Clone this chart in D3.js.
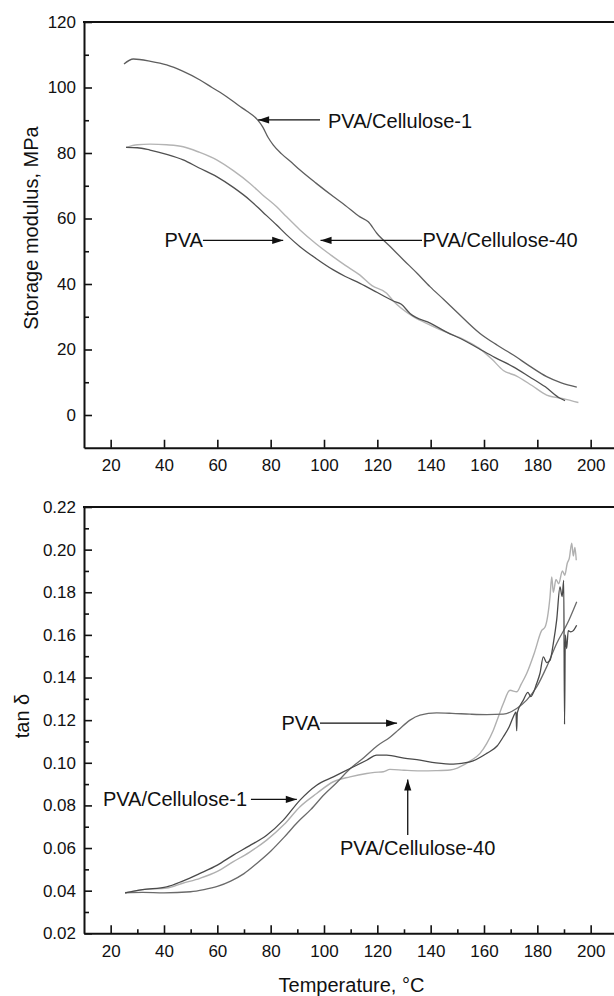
<!DOCTYPE html>
<html><head><meta charset="utf-8">
<script src="https://cdn.jsdelivr.net/npm/d3@7"></script>
<style>
body{margin:0;background:#fff}
svg{display:block}
text{font-family:"Liberation Sans",Arial,Helvetica,sans-serif;fill:#111}
</style>
</head><body>
<svg id="chart" width="614" height="996"></svg>
<script>
// ---------------- DATA ----------------
const seriesNames = ["PVA", "PVA/Cellulose-1", "PVA/Cellulose-40"];
const xTickLabels = [20, 40, 60, 80, 100, 120, 140, 160, 180, 200];
const modulusTickLabels = [0, 20, 40, 60, 80, 100, 120];
const tanTickLabels = [0.02, 0.04, 0.06, 0.08, 0.10, 0.12, 0.14, 0.16, 0.18, 0.20, 0.22];

// Storage modulus (MPa) vs temperature (°C)
const modC1Temp = [25, 28.5, 35, 41, 47, 53.5, 58, 63.5, 68, 71, 75, 77, 79, 81, 84, 88, 91, 97, 103.5, 108, 113.5, 116.6, 119.8, 125, 130, 135, 139.75, 145, 150, 158.5, 165, 171, 177, 183.5, 189, 194.8];
const modC1 = [107.2, 108.7, 108, 106.9, 105, 102.3, 100, 97.2, 94.5, 92.8, 90.2, 88, 84.8, 82.4, 79.8, 77, 74.8, 70.8, 66.7, 64, 60.5, 59, 55.5, 51.3, 47.2, 43.2, 39.2, 35.2, 31.3, 24.9, 21.3, 18.3, 15, 11.7, 9.8, 8.5];

const modPVATemp = [25.75, 30, 34.75, 41, 47.2, 53, 59.75, 66, 72.25, 77, 82.25, 86, 91, 97, 103.5, 108, 113.5, 120, 126, 129, 132.25, 140, 146, 152.25, 158, 164, 171, 177, 183, 188.5, 190.4];
const modPVA = [81.7, 81.6, 80.9, 79.6, 77.9, 75.5, 72.8, 69.5, 65.6, 62, 58, 55, 51.4, 47.8, 44.3, 42.3, 40.2, 37.4, 34.8, 33.8, 31, 28, 25.3, 22.9, 20.3, 17.6, 14.7, 11.7, 8.6, 5.1, 4.4];

const modC40Temp = [25.8, 30, 34.75, 41, 47.2, 53, 59.75, 66, 72.25, 77, 82.25, 86, 91, 97, 103.5, 108, 113.5, 118, 123.5, 126, 133.5, 140, 146, 152.25, 158, 163, 167.25, 172.25, 178, 183.5, 189.7, 195.4];
const modC40 = [81.7, 82.5, 82.7, 82.5, 81.9, 80.3, 77.9, 74.6, 70.7, 67.2, 63.6, 60.5, 56.5, 52.3, 48.3, 45.7, 42.7, 39.5, 37.2, 34.8, 30, 27.4, 25.2, 23.1, 20.5, 17, 13.6, 11.9, 9, 6.1, 5.0, 3.8];

// tan delta vs temperature (°C)
const tanPVATemp = [25.4, 32, 40, 50, 55, 60, 65, 70, 75, 80, 85, 90, 95, 100, 105, 109, 115, 120, 124.75, 128, 132.25, 136, 142.25, 148, 154.75, 161, 167.25, 172.25, 176, 179.75, 183.5, 187.25, 191.25, 194.75];
const tanPVA = [0.039, 0.0392, 0.039, 0.0395, 0.0405, 0.042, 0.0445, 0.048, 0.053, 0.0585, 0.065, 0.072, 0.078, 0.085, 0.091, 0.0963, 0.1025, 0.108, 0.112, 0.1155, 0.120, 0.1223, 0.1234, 0.1232, 0.1228, 0.1226, 0.1228, 0.1255, 0.1294, 0.1356, 0.145, 0.156, 0.1653, 0.1755];

const tanC1Temp = [25.4, 32, 41, 47, 53.5, 60, 66, 72, 78.5, 84.75, 91, 97.25, 103.5, 109.75, 116, 119.75, 123.5, 130, 136, 142, 148.5, 154.75, 161, 165, 167.25, 169.5, 171, 172, 172.25, 172.5, 174.75, 176.5, 177.5, 179.75, 181, 182.25, 183.5, 184.75, 186, 187.25, 188.5, 189.3, 189.9, 190.2, 190.5, 191, 191.6, 192.5, 193.5, 194.75];
const tanC1 = [0.039, 0.0405, 0.0418, 0.0445, 0.0481, 0.052, 0.0567, 0.061, 0.066, 0.0731, 0.0825, 0.0895, 0.0934, 0.0973, 0.1012, 0.1036, 0.1036, 0.1022, 0.1012, 0.100, 0.0994, 0.1004, 0.1044, 0.108, 0.1122, 0.117, 0.1216, 0.1239, 0.115, 0.1235, 0.1294, 0.1330, 0.1310, 0.1372, 0.142, 0.1497, 0.1470, 0.148, 0.156, 0.1669, 0.1825, 0.178, 0.1856, 0.118, 0.160, 0.1536, 0.162, 0.1614, 0.162, 0.1645];

const tanC40Temp = [25.4, 32, 41, 47, 53.5, 60, 66, 72, 78.5, 85, 91, 97.25, 103.5, 109.75, 116, 119, 122.25, 124.75, 130, 136, 142, 147.25, 150, 152.25, 155, 158.5, 161, 163.5, 165.5, 167.25, 169.75, 172.25, 174, 176, 179, 181.6, 182.9, 184.75, 185.4, 186, 187, 188, 189.4, 190.3, 191.2, 192, 192.9, 193.5, 194.1, 194.6];
const tanC40 = [0.039, 0.0405, 0.0412, 0.0435, 0.0458, 0.049, 0.0536, 0.058, 0.0637, 0.071, 0.0794, 0.0856, 0.0911, 0.0934, 0.095, 0.0955, 0.0958, 0.0969, 0.0965, 0.0962, 0.0963, 0.0966, 0.0975, 0.0989, 0.101, 0.1044, 0.109, 0.1153, 0.122, 0.1278, 0.134, 0.1333, 0.137, 0.1419, 0.152, 0.162, 0.1637, 0.1778, 0.1872, 0.180, 0.186, 0.184, 0.190, 0.188, 0.1935, 0.196, 0.203, 0.197, 0.201, 0.195];

// ---------------- DRAW ----------------
const svg = d3.select("#chart");
const W = 614;
const zip = (xs, ys) => xs.map((x, i) => [x, ys[i]]);

function panel(cfg) {
  const x = d3.scaleLinear().domain([10, 210]).range([84, 617.33]);
  const y = d3.scaleLinear().domain(cfg.yDomain).range(cfg.yRange);
  const g = svg.append("g");
  const y0 = cfg.yRange[0], y1 = cfg.yRange[1];

  // series
  const line = d3.line().x(d => x(d[0])).y(d => y(d[1])).curve(d3.curveMonotoneX);
  cfg.series.forEach(s => {
    g.append("path").datum(zip(s.t, s.v))
      .attr("d", line).attr("fill", "none")
      .attr("stroke", s.color).attr("stroke-width", s.w || 1.3)
      .attr("stroke-linejoin", "round");
  });

  // major x ticks
  const ax = g.append("g").attr("transform", `translate(0,${y0})`)
    .call(d3.axisBottom(x).tickValues(xTickLabels).tickSizeInner(-8).tickSizeOuter(0).tickPadding(cfg.xPad).tickFormat(d3.format("d")));
  ax.select(".domain").attr("stroke-width", 2).attr("stroke", "#111");
  ax.selectAll(".tick line").attr("stroke-width", 1.6).attr("stroke", "#111");
  ax.selectAll(".tick text").attr("font-size", 17).attr("font-family", null).style("fill", "#111");
  if (cfg.xMinor) {
    const mx = g.append("g").attr("transform", `translate(0,${y0})`)
      .call(d3.axisBottom(x).tickValues(cfg.xMinor).tickSizeInner(-4).tickSizeOuter(0).tickFormat(""));
    mx.select(".domain").remove();
    mx.selectAll(".tick line").attr("stroke-width", 1.6).attr("stroke", "#111");
  }
  // y axis
  const ay = g.append("g").attr("transform", `translate(84,0)`)
    .call(d3.axisLeft(y).tickValues(cfg.yTicks).tickSizeInner(-8).tickSizeOuter(0).tickPadding(8).tickFormat(cfg.yFormat));
  ay.select(".domain").attr("stroke-width", 2).attr("stroke", "#111");
  ay.selectAll(".tick line").attr("stroke-width", 1.6).attr("stroke", "#111");
  ay.selectAll(".tick text").attr("font-size", 17).attr("font-family", null).style("fill", "#111");
  const my = g.append("g").attr("transform", `translate(84,0)`)
    .call(d3.axisLeft(y).tickValues(cfg.yMinor).tickSizeInner(-5).tickSizeOuter(0).tickFormat(""));
  my.select(".domain").remove();
  my.selectAll(".tick line").attr("stroke-width", 1.6).attr("stroke", "#111");

  // top frame line
  g.append("line").attr("x1", 83).attr("x2", W).attr("y1", y1).attr("y2", y1)
    .attr("stroke", "#111").attr("stroke-width", 2);

  // annotations
  cfg.notes.forEach(n => {
    const tx = x(n.tip[0]), ty = y(n.tip[1]);
    const fx = x(n.tail[0]), fy = y(n.tail[1]);
    g.append("line").attr("x1", fx).attr("y1", fy).attr("x2", tx).attr("y2", ty)
      .attr("stroke", "#111").attr("stroke-width", 1.3);
    const ang = Math.atan2(ty - fy, tx - fx);
    const L = 11, H = 3.6;
    const bx = tx - L * Math.cos(ang), by = ty - L * Math.sin(ang);
    const px = -Math.sin(ang) * H, py = Math.cos(ang) * H;
    g.append("path").attr("d", `M${tx},${ty}L${bx + px},${by + py}L${bx - px},${by - py}Z`).attr("fill", "#111");
    g.append("text").attr("x", x(n.text[0])).attr("y", y(n.text[1]))
      .attr("dy", "0.35em").attr("text-anchor", n.anchor).attr("font-size", 20).text(n.label);
  });
  return { x, y, g };
}

// Top panel: storage modulus
panel({
  yDomain: [-10, 120], yRange: [447.75, 22],
  yTicks: modulusTickLabels, yMinor: d3.range(10, 111, 20), yFormat: d3.format("d"),
  xPad: 11, xMinor: null,
  series: [
    { t: modC40Temp, v: modC40, color: "#b4b4b4", w: 1.4 },
    { t: modPVATemp, v: modPVA, color: "#505050" },
    { t: modC1Temp, v: modC1, color: "#5e5e5e" }
  ],
  notes: [
    { label: seriesNames[1], tip: [75.3, 90.1], tail: [98.5, 90.1], text: [101.5, 89.7], anchor: "start" },
    { label: seriesNames[0], tip: [84.7, 53.3], tail: [54.6, 53.3], text: [54.6, 53.5], anchor: "end" },
    { label: seriesNames[2], tip: [98.7, 53.3], tail: [136.75, 53.3], text: [136.9, 53.3], anchor: "start" }
  ]
});

// Bottom panel: tan delta
panel({
  yDomain: [0.02, 0.22], yRange: [933.3, 507],
  yTicks: tanTickLabels, yMinor: d3.range(0.03, 0.215, 0.02), yFormat: d3.format(".2f"),
  xPad: 12, xMinor: d3.range(30, 200, 20),
  series: [
    { t: tanC40Temp, v: tanC40, color: "#b0b0b0", w: 1.4 },
    { t: tanPVATemp, v: tanPVA, color: "#6a6a6a" },
    { t: tanC1Temp, v: tanC1, color: "#4a4a4a" }
  ],
  notes: [
    { label: seriesNames[0], tip: [127.4, 0.1186], tail: [98.5, 0.1186], text: [98.5, 0.1188], anchor: "end" },
    { label: seriesNames[1], tip: [89.8, 0.0828], tail: [72.6, 0.0828], text: [17.1, 0.0828], anchor: "start" },
    { label: seriesNames[2], tip: [131.4, 0.0921], tail: [131.4, 0.0661], text: [106, 0.0601], anchor: "start" }
  ]
});

// Axis titles
svg.append("text").attr("transform", "translate(38,228) rotate(-90)")
  .attr("text-anchor", "middle").attr("font-size", 20).text("Storage modulus, MPa");
svg.append("text").attr("transform", "translate(29,716) rotate(-90)")
  .attr("text-anchor", "middle").attr("font-size", 20).text("tan δ");
svg.append("text").attr("x", 351.5).attr("y", 992)
  .attr("text-anchor", "middle").attr("font-size", 20).text("Temperature, °C");
</script>
</body></html>
